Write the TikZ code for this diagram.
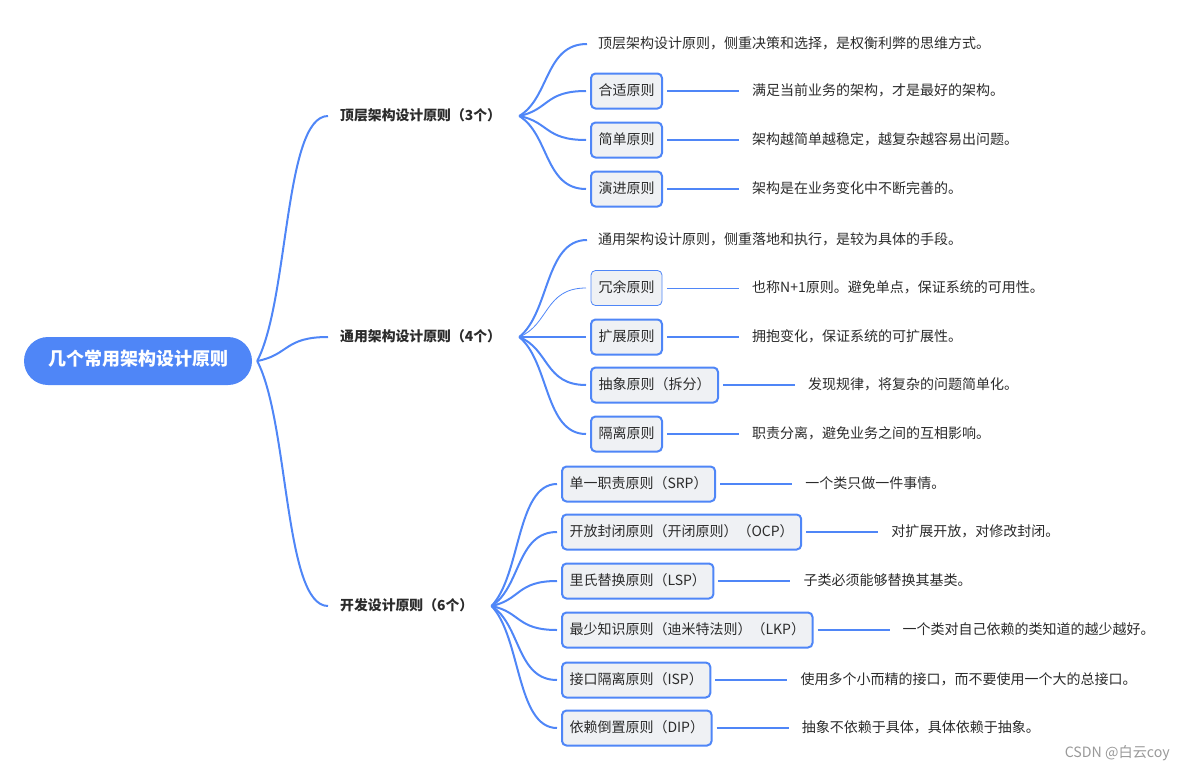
\documentclass[tikz,border=0pt]{standalone}
\usepackage{fontspec}
\setmainfont{Noto Sans CJK SC}
\usepackage{xcolor}
\usepackage{tikz}
\usetikzlibrary{positioning,calc}
\definecolor{mmblue}{HTML}{4F86F7}
\definecolor{mmgrey}{HTML}{EFF1F4}
\definecolor{mmtext}{HTML}{2B2B2B}
\pgfkeys{tikz/mmroot/.style={fill=mmblue,text=white,rounded corners=24pt,minimum width=228pt,minimum height=48pt,inner sep=0pt,text height=.9em,text depth=.1em,font=\fontsize{18}{21}\selectfont\bfseries}}
\pgfkeys{tikz/mmtopic/.style={text=mmtext,inner xsep=12pt,inner ysep=0pt,text height=.9em,text depth=.1em,font=\fontsize{13.85}{16}\selectfont\bfseries}}
\pgfkeys{tikz/mmnote/.style={text=mmtext,inner xsep=11pt,inner ysep=0pt,text height=.9em,text depth=.1em,font=\fontsize{14}{16}\selectfont}}
\pgfkeys{tikz/mmbox/.style={mmnote,draw=mmblue,fill=mmgrey,line width=2pt,rounded corners=4.5pt,inner xsep=7.5pt,minimum height=35pt,outer xsep=5pt,outer ysep=0pt}}
\pgfkeys{tikz/mmdesc/.style={mmnote,inner xsep=13pt}}
\pgfkeys{tikz/mmbranch/.style={draw=mmblue,line width=2pt}}
\pgfkeys{tikz/mmthin/.style={line width=.8pt}}
\newcommand*\mmlink[3][]{
    \draw[mmbranch,#1] (#2) let \p1=(#2), \p2=(#3) in
        .. controls ({\x1+0.45*(\x2-\x1)},{\y1+0.25*(\y2-\y1)}) and ({\x1+0.38*(\x2-\x1)},\y2) .. (\p2);
}
\newcommand*\mmleaf[5][]{
    \node[mmbox,anchor=west,#1] (#2) at (#3) {#4};
    \node[mmdesc,right=72pt of #2] (#2-d) {#5};
    \draw[mmbranch,#1] (#2) -- (#2-d);
}

\begin{document}
\begin{tikzpicture}[x=1pt,y=-1pt]
    \useasboundingbox (0,0) rectangle (1186,771);
    \node[mmroot] (root) at (138,361) {几个常用架构设计原则};
    \node[mmtopic,anchor=west] (top) at (328,116) {顶层架构设计原则（3个）};
    \node[mmtopic,anchor=west] (gen) at (328,337) {通用架构设计原则（4个）};
    \node[mmtopic,anchor=west] (dev) at (328,606) {开发设计原则（6个）};
    \foreach \t in {top,gen,dev} {\mmlink{[xshift=5pt]root.east}{\t.west}}

    \node[mmnote,anchor=west] (top-note) at (587,44) {顶层架构设计原则，侧重决策和选择，是权衡利弊的思维方式。};
    \mmleaf{top-fit}{586,91}{合适原则}{满足当前业务的架构，才是最好的架构。}
    \mmleaf{top-simple}{586,140}{简单原则}{架构越简单越稳定，越复杂越容易出问题。}
    \mmleaf{top-evolve}{586,189}{演进原则}{架构是在业务变化中不断完善的。}
    \foreach \c in {top-note,top-fit,top-simple,top-evolve} {\mmlink{[xshift=6pt]top.east}{\c.west}}

    \node[mmnote,anchor=west] (gen-note) at (587,240) {通用架构设计原则，侧重落地和执行，是较为具体的手段。};
    \mmleaf[mmthin]{gen-redund}{586,288}{冗余原则}{也称N+1原则。避免单点，保证系统的可用性。}
    \mmleaf{gen-extend}{586,337}{扩展原则}{拥抱变化，保证系统的可扩展性。}
    \mmleaf{gen-abstract}{586,385}{抽象原则（拆分）}{发现规律，将复杂的问题简单化。}
    \mmleaf{gen-isolate}{586,434}{隔离原则}{职责分离，避免业务之间的互相影响。}
    \foreach \c in {gen-note,gen-extend,gen-abstract,gen-isolate} {\mmlink{[xshift=6pt]gen.east}{\c.west}}
    \mmlink[mmthin]{[xshift=6pt]gen.east}{gen-redund.west}

    \mmleaf{dev-srp}{557,484}{单一职责原则（SRP）}{一个类只做一件事情。}
    \mmleaf{dev-ocp}{557,532}{开放封闭原则（开闭原则）（OCP）}{对扩展开放，对修改封闭。}
    \mmleaf{dev-lsp}{557,581}{里氏替换原则（LSP）}{子类必须能够替换其基类。}
    \mmleaf{dev-lkp}{557,630}{最少知识原则（迪米特法则）（LKP）}{一个类对自己依赖的类知道的越少越好。}
    \mmleaf{dev-isp}{557,680}{接口隔离原则（ISP）}{使用多个小而精的接口，而不要使用一个大的总接口。}
    \mmleaf{dev-dip}{557,728}{依赖倒置原则（DIP）}{抽象不依赖于具体，具体依赖于抽象。}
    \foreach \c in {dev-srp,dev-ocp,dev-lsp,dev-lkp,dev-isp,dev-dip} {\mmlink{[xshift=6pt]dev.east}{\c.west}}

    \node[anchor=east,inner sep=0pt,text=black!40,font=\fontsize{14.2}{17}\selectfont] (mark) at (1170,753) {CSDN @白云coy};
\end{tikzpicture}
\end{document}
